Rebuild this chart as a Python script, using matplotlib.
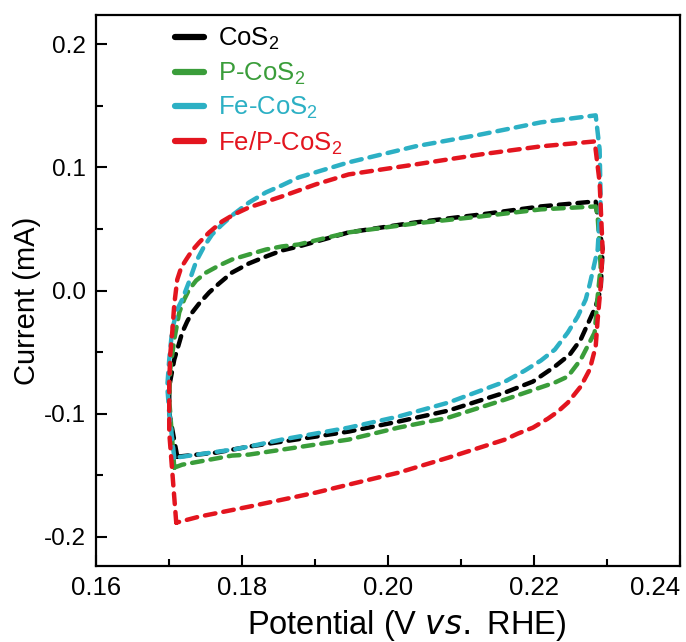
import numpy as np
import matplotlib
matplotlib.use("Agg")
import matplotlib.pyplot as plt
from matplotlib.lines import Line2D
from matplotlib.ticker import MultipleLocator, FormatStrFormatter

plt.rcParams['font.family'] = ['Liberation Sans', 'DejaVu Sans']
plt.rcParams['mathtext.default'] = 'regular'
plt.rcParams['axes.unicode_minus'] = False

# CV loops: potential (V vs. RHE) and current (mA)
cos2_E = [0.17113, 0.17003, 0.17003, 0.17072, 0.17113, 0.17181, 0.17249, 0.17317,
          0.17413, 0.17550, 0.17686, 0.17864, 0.18096, 0.18328, 0.18546, 0.18778,
          0.19461, 0.20375, 0.21277, 0.22096, 0.22847, 0.22874, 0.22942, 0.22915,
          0.22847, 0.22642, 0.22492, 0.22287, 0.21986, 0.21604, 0.20826, 0.20143,
          0.19461, 0.19010, 0.18096, 0.17645, 0.17113]
cos2_I = [-0.1350, -0.0992, -0.0780, -0.0561, -0.0480, -0.0341, -0.0252, -0.0179,
          -0.0106, -0.0016, 0.0057, 0.0146, 0.0220, 0.0276, 0.0325, 0.0358,
          0.0472, 0.0553, 0.0618, 0.0683, 0.0724, 0.0602, 0.0333, 0.0008,
          -0.0130, -0.0398, -0.0520, -0.0618, -0.0740, -0.0829, -0.0976, -0.1065,
          -0.1146, -0.1187, -0.1268, -0.1317, -0.1350]

pcos2_E = [0.17072, 0.17003, 0.17017, 0.17072, 0.17140, 0.17208, 0.17276, 0.17372,
           0.17509, 0.17686, 0.17864, 0.18096, 0.18328, 0.18546, 0.18778, 0.19461,
           0.20375, 0.21277, 0.22096, 0.22847, 0.22874, 0.22915, 0.22874, 0.22833,
           0.22642, 0.22465, 0.22287, 0.21604, 0.20826, 0.20143, 0.19461, 0.18546,
           0.18096, 0.17864, 0.17181, 0.17072]
pcos2_I = [-0.1439, -0.0886, -0.0642, -0.0398, -0.0179, -0.0073, 0.0008, 0.0081,
           0.0146, 0.0203, 0.0252, 0.0293, 0.0333, 0.0358, 0.0374, 0.0472,
           0.0545, 0.0602, 0.0659, 0.0683, 0.0602, 0.0195, -0.0049, -0.0341,
           -0.0561, -0.0699, -0.0748, -0.0886, -0.1033, -0.1114, -0.1211, -0.1293,
           -0.1333, -0.1341, -0.1415, -0.1439]

fecos2_E = [0.17072, 0.17003, 0.16976, 0.17003, 0.17044, 0.17113, 0.17181, 0.17276,
            0.17372, 0.17481, 0.17590, 0.17713, 0.17864, 0.18096, 0.18328, 0.18546,
            0.18778, 0.19461, 0.20375, 0.21277, 0.22096, 0.22847, 0.22901, 0.22915,
            0.22874, 0.22765, 0.22710, 0.22601, 0.22465, 0.22287, 0.22096, 0.21877,
            0.21604, 0.20826, 0.20143, 0.19461, 0.18546, 0.18096, 0.17864, 0.17181,
            0.17072]
fecos2_I = [-0.1358, -0.0992, -0.0780, -0.0561, -0.0317, -0.0154, -0.0073, 0.0073,
            0.0236, 0.0358, 0.0455, 0.0528, 0.0610, 0.0715, 0.0797, 0.0854,
            0.0919, 0.1041, 0.1171, 0.1268, 0.1366, 0.1423, 0.1146, 0.0740,
            0.0333, 0.0049, -0.0073, -0.0211, -0.0341, -0.0480, -0.0569, -0.0650,
            -0.0740, -0.0911, -0.1024, -0.1114, -0.1211, -0.1268, -0.1293, -0.1350,
            -0.1358]

fepcos2_E = [0.17099, 0.17003, 0.17003, 0.17017, 0.17044, 0.17072, 0.17113, 0.17167,
             0.17236, 0.17317, 0.17413, 0.17550, 0.17727, 0.17891, 0.18096, 0.18546,
             0.19010, 0.19461, 0.20375, 0.21277, 0.22096, 0.22833, 0.22901, 0.22942,
             0.22915, 0.22874, 0.22847, 0.22765, 0.22642, 0.22465, 0.22328, 0.22192,
             0.21987, 0.21782, 0.21604, 0.20826, 0.20143, 0.19461, 0.19010, 0.18096,
             0.17413, 0.17099]
fepcos2_I = [-0.1886, -0.1154, -0.0748, -0.0520, -0.0341, -0.0114, 0.0089, 0.0187,
             0.0252, 0.0325, 0.0390, 0.0472, 0.0561, 0.0618, 0.0675, 0.0764,
             0.0862, 0.0943, 0.1024, 0.1106, 0.1171, 0.1211, 0.0878, 0.0333,
             0.0033, -0.0236, -0.0455, -0.0642, -0.0780, -0.0911, -0.0984, -0.1041,
             -0.1114, -0.1162, -0.1211, -0.1358, -0.1480, -0.1577, -0.1642, -0.1756,
             -0.1837, -0.1886]

labels = ['CoS$_2$', 'P-CoS$_2$', 'Fe-CoS$_2$', 'Fe/P-CoS$_2$']
colors = ['#000000', '#3a9d3a', '#2cb0c4', '#e3151f']
series = [(cos2_E, cos2_I), (pcos2_E, pcos2_I), (fecos2_E, fecos2_I), (fepcos2_E, fepcos2_I)]

fig = plt.figure(figsize=(6.86, 6.42), dpi=100)
ax = fig.add_axes([0.140, 0.118, 0.851, 0.859])

for (E, I), c in zip(series, colors):
    ax.plot(E, I, color=c, lw=3.2, linestyle=(0, (2.4, 1.8)),
            dash_capstyle='round', solid_joinstyle='round')

ax.set_xlim(0.16, 0.24)
ax.set_ylim(-0.224, 0.224)
ax.xaxis.set_major_locator(MultipleLocator(0.02))
ax.xaxis.set_minor_locator(MultipleLocator(0.01))
ax.yaxis.set_major_locator(MultipleLocator(0.1))
ax.yaxis.set_minor_locator(MultipleLocator(0.05))
ax.xaxis.set_major_formatter(FormatStrFormatter('%.2f'))
ax.yaxis.set_major_formatter(FormatStrFormatter('%.1f'))

ax.tick_params(which='both', direction='in', top=False, right=False, width=1.5, pad=7)
ax.tick_params(axis='x', labelsize=18.5)
ax.tick_params(axis='y', labelsize=17.5)
ax.tick_params(which='major', length=8)
ax.tick_params(which='minor', length=5)
for sp in ax.spines.values():
    sp.set_linewidth(1.6)

ax.set_xlabel('Potential (V $\\it{vs.}$ RHE)', fontsize=23.5)
ax.set_ylabel('Current (mA)', fontsize=21)
ax.xaxis.set_label_coords(0.533, -0.075)
ax.yaxis.set_label_coords(-0.094, 0.481)

# last x label sits flush with the right edge, as in the original
fig.canvas.draw()
for tk in ax.xaxis.get_major_ticks():
    if abs(tk.get_loc() - 0.24) < 1e-6:
        tk.label1.set_horizontalalignment('right')

handles = [Line2D([0], [0], color=c, lw=4.5, solid_capstyle='round') for c in colors]
leg = ax.legend(handles, labels, loc='upper left', bbox_to_anchor=(0.105, 1.012),
                frameon=False, fontsize=18.5, handlelength=1.1, handletextpad=0.55,
                labelspacing=0.32, borderaxespad=0.3)
for txt, c in zip(leg.get_texts(), colors):
    txt.set_color(c)

plt.savefig('out.png', dpi=100)
